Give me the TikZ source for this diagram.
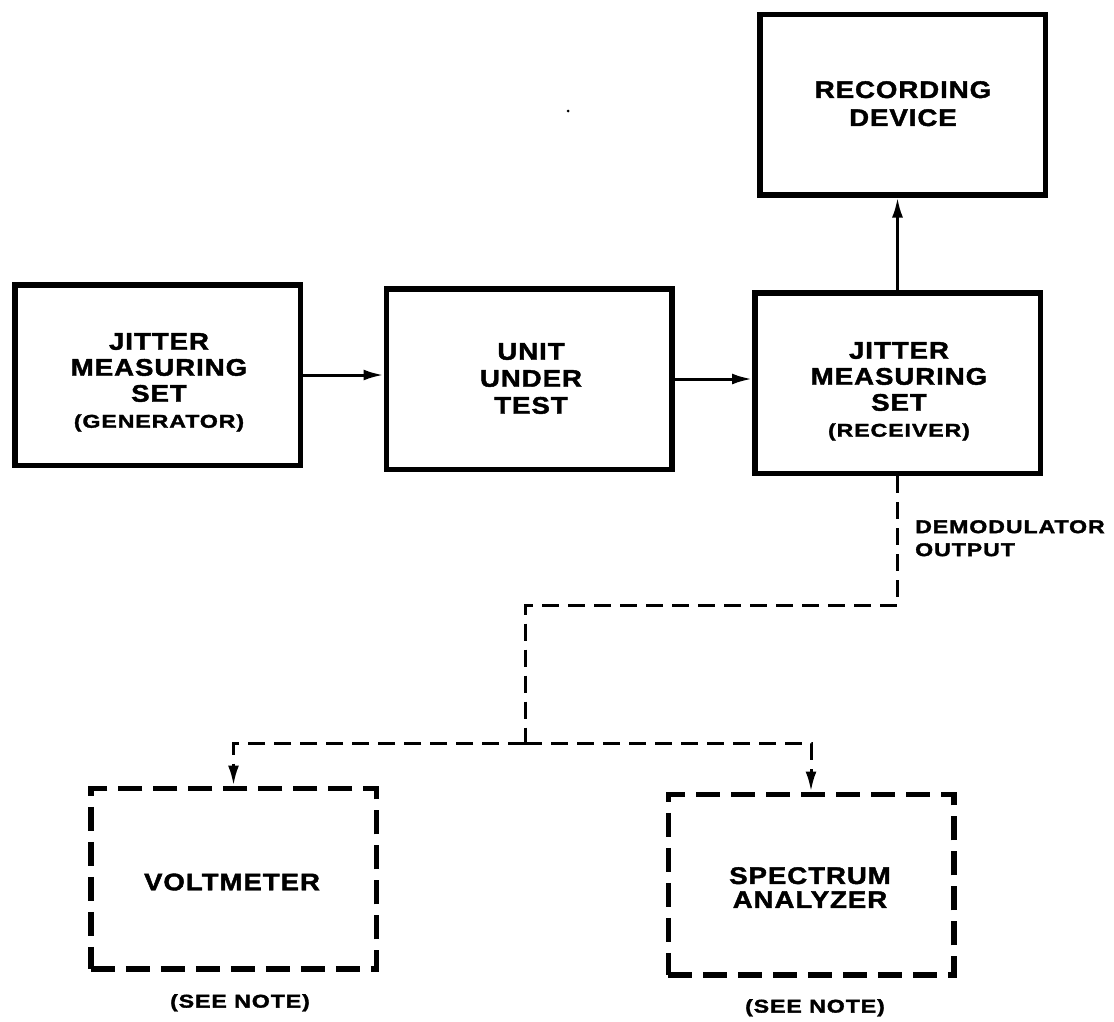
\documentclass[tikz,border=0pt]{standalone}
\usepackage{fontspec}
\newfontfamily\dfont[FakeStretch=1.15,LetterSpace=4,FakeBold=1.8]{Liberation Sans}
\newfontfamily\sfont[FakeStretch=1.25,LetterSpace=5,FakeBold=1.8]{Liberation Sans}
\usetikzlibrary{arrows.meta}
\newcommand\bigtxt{\dfont\bfseries\fontsize{24}{26}\selectfont}
\newcommand\smtxt{\sfont\bfseries\fontsize{18.5}{24}\selectfont}
\begin{document}
\begin{tikzpicture}[x=1pt,y=-1pt,
  blk/.style={draw,line width=5.5pt,minimum width=285.5pt,minimum height=180.5pt,inner sep=0pt},
  dblk/.style={blk,dash pattern=on 24pt off 11pt},
  txt/.style={inner sep=0pt,align=center,font=\bigtxt},
  conn/.style={line width=3pt,-{Latex[length=20pt,width=11pt]}},
  dconn/.style={line width=3pt,dash pattern=on 17pt off 9pt},
  darr/.style={dconn,-{Latex[length=20pt,width=11pt]}},
  lbl/.style={font=\smtxt,align=left,inner sep=0pt}]
\useasboundingbox (0,0) rectangle (1114,1021);

% boxes
\node[blk] (rec) at (902.5,104.5) {};
\node[blk] (gen) at (157.5,375) {};
\node[blk] (uut) at (529,379) {};
\node[blk] (rcv) at (897.5,383) {};
\node[dblk] (vm) at (233.5,878.5) {};
\node[dblk] (sa) at (811,884.5) {};

% box texts
\node[txt,anchor=north] (rect) at (903,81) {RECORDING\\[2pt]DEVICE};
\node[txt,anchor=north] (gent) at (159,333) {JITTER\\MEASURING\\SET\\{\smtxt (GENERATOR)}};
\node[txt,anchor=north] (uutt) at (531,343) {UNIT\\[1pt]UNDER\\[1pt]TEST};
\node[txt,anchor=north] (rcvt) at (899,342) {JITTER\\MEASURING\\SET\\{\smtxt (RECEIVER)}};
\node[txt] (vmt) at (232,882) {VOLTMETER};
\node[txt,anchor=north] (sat) at (810,867) {SPECTRUM\\[-2pt]ANALYZER};

\node[lbl,anchor=north] (n1) at (240,994) {(SEE NOTE)};
\node[lbl,anchor=north] (n2) at (815,999) {(SEE NOTE)};
\node[lbl,anchor=north west] (demod) at (915,520) {DEMODULATOR\\[-1pt]OUTPUT};

\coordinate (j2) at (525,605);
\coordinate (j3) at (525,743);

\draw[conn] (gen.east) -- (gen.east -| uut.west);
\draw[conn] (uut.east) -- (uut.east -| rcv.west);
\draw[conn] (rcv.north) -- (rcv.north |- rec.south);

\draw[dconn] (rcv.south) |- (j2) -- (j3);
\draw[darr] (j3) -| (vm.north);
\draw[darr] (j3) -| (sa.north);

\fill (568,111) circle (1.5pt);
\end{tikzpicture}
\end{document}
